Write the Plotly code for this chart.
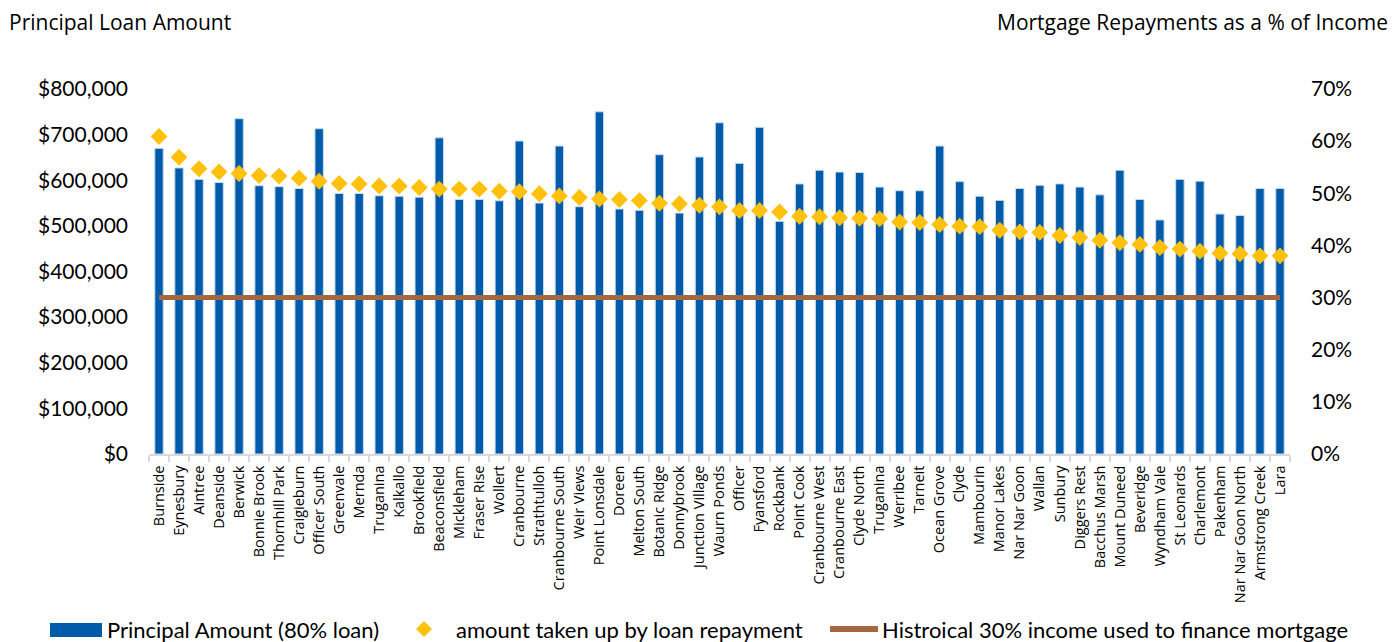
import plotly.graph_objects as go

suburbs = ["Burnside", "Eynesbury", "Aintree", "Deanside", "Berwick", "Bonnie Brook", "Thornhill Park",
           "Craigieburn", "Officer South", "Greenvale", "Mernda", "Truganina", "Kalkallo", "Brookfield",
           "Beaconsfield", "Mickleham", "Fraser Rise", "Wollert", "Cranbourne", "Strathtulloh",
           "Cranbourne South", "Weir Views", "Point Lonsdale", "Doreen", "Melton South", "Botanic Ridge",
           "Donnybrook", "Junction Village", "Waurn Ponds", "Officer", "Fyansford", "Rockbank", "Point Cook",
           "Cranbourne West", "Cranbourne East", "Clyde North", "Truganina", "Werribee", "Tarneit",
           "Ocean Grove", "Clyde", "Mambourin", "Manor Lakes", "Nar Nar Goon", "Wallan", "Sunbury",
           "Diggers Rest", "Bacchus Marsh", "Mount Duneed", "Beveridge", "Wyndham Vale", "St Leonards",
           "Charlemont", "Pakenham", "Nar Nar Goon North", "Armstrong Creek", "Lara"]

principal = [670000, 627000, 602000, 595000, 735000, 588000, 586000,
             582000, 713000, 571000, 571000, 566000, 565000, 563000,
             693000, 558000, 558000, 555000, 686000, 550000,
             675000, 542000, 750000, 537000, 534000, 656000,
             528000, 651000, 726000, 637000, 716000, 510000, 592000,
             622000, 618000, 617000, 585000, 577000, 577000,
             675000, 597000, 565000, 556000, 582000, 589000, 592000,
             585000, 568000, 622000, 558000, 513000, 602000,
             598000, 526000, 523000, 582000, 582000]

repay_pct = [60.9, 56.9, 54.7, 54.1, 53.8, 53.4, 53.3,
             52.9, 52.3, 51.9, 51.8, 51.4, 51.4, 51.1,
             50.8, 50.8, 50.8, 50.4, 50.3, 49.9,
             49.5, 49.2, 48.9, 48.8, 48.6, 48.1,
             48.0, 47.7, 47.4, 46.7, 46.7, 46.4, 45.6,
             45.5, 45.3, 45.2, 45.1, 44.5, 44.4,
             44.0, 43.7, 43.6, 42.9, 42.6, 42.5, 41.9,
             41.5, 41.0, 40.5, 40.2, 39.6, 39.3,
             38.9, 38.5, 38.4, 38.0, 38.0]

historic_pct = [30] * len(suburbs)

legend_labels = ["Principal Amount (80% loan)", "amount taken up by loan repayment",
                 "Histroical 30% income used to finance mortgage"]

BAR_C = "#005BAA"
DIA_C = "#FFC10E"
LINE_C = "#A5673F"
TICK_FONT = "Lato"
TXT_FONT = "Open Sans"

W, H = 1392, 642
L, R, T, B = 149, 102, 89, 188
PW, PH = W - L - R, H - T - B


def px_x(px):
    return (px - L) / PW


def px_y(py):
    return (H - B - py) / PH


x_pos = list(range(len(suburbs)))

fig = go.Figure()
fig.add_trace(go.Bar(
    x=x_pos, y=principal, name=legend_labels[0],
    marker=dict(color=BAR_C, line=dict(color="#c9dcf0", width=1)),
    width=0.42, yaxis="y", showlegend=False))
fig.add_trace(go.Scatter(
    x=x_pos, y=repay_pct, name=legend_labels[1], mode="markers",
    marker=dict(symbol="diamond", size=13, color=DIA_C), yaxis="y2", showlegend=False))
fig.add_trace(go.Scatter(
    x=x_pos, y=historic_pct, name=legend_labels[2], mode="lines",
    line=dict(color=LINE_C, width=5), yaxis="y2", showlegend=False))

# custom legend
ly = 629
shapes = [
    dict(type="rect", xref="paper", yref="paper", x0=px_x(50), x1=px_x(102),
         y0=px_y(623), y1=px_y(637), fillcolor=BAR_C, line=dict(width=0)),
    dict(type="path", xref="paper", yref="paper",
         path="M {a},{b} L {c},{d} L {a},{e} L {f},{d} Z".format(
             a=px_x(424), b=px_y(ly - 8), c=px_x(432), d=px_y(ly), e=px_y(ly + 8), f=px_x(416)),
         fillcolor=DIA_C, line=dict(width=0)),
    dict(type="line", xref="paper", yref="paper", x0=px_x(830), x1=px_x(878),
         y0=px_y(629), y1=px_y(629), line=dict(color=LINE_C, width=6)),
]
legend_ann = [
    dict(text=legend_labels[0], x=px_x(106), y=px_y(ly)),
    dict(text=legend_labels[1], x=px_x(455), y=px_y(ly)),
    dict(text=legend_labels[2], x=px_x(881), y=px_y(ly)),
]
annotations = []
for a in legend_ann:
    a.update(xref="paper", yref="paper", xanchor="left", yanchor="middle", showarrow=False,
             font=dict(size=22, family=TICK_FONT, color="#000"), borderpad=0)
    annotations.append(a)

annotations += [
    dict(text="Principal Loan Amount", xref="paper", yref="paper", x=px_x(7), y=px_y(22),
         xanchor="left", yanchor="middle", showarrow=False, font=dict(size=21, family=TXT_FONT)),
    dict(text="Mortgage Repayments as a % of Income", xref="paper", yref="paper", x=px_x(1390), y=px_y(22),
         xanchor="right", yanchor="middle", showarrow=False, font=dict(size=21, family=TXT_FONT)),
]

fig.update_layout(
    width=W, height=H,
    margin=dict(l=L, r=R, t=T, b=B, autoexpand=False),
    paper_bgcolor="white", plot_bgcolor="white",
    font=dict(family=TICK_FONT, size=19, color="#000000"),
    showlegend=False,
    bargap=0.5,
    xaxis=dict(range=[-0.5, len(suburbs) - 0.5], tickmode="array", tickvals=x_pos, ticktext=suburbs,
               tickangle=-90, tickfont=dict(size=14.5, family=TXT_FONT), showgrid=False, zeroline=False,
               showline=True, linecolor="#d9d9d9", linewidth=1.5, ticks="", automargin=False,
               minor=dict(tickvals=[i - 0.5 for i in range(len(suburbs) + 1)], ticks="outside",
                          ticklen=6, tickcolor="#d9d9d9", tickwidth=1.5, showgrid=False),
               ticklabelstandoff=4),
    yaxis=dict(range=[0, 800000], dtick=100000, tickprefix="$", tickformat=",.0f", automargin=False,
               showgrid=False, zeroline=False, showline=False, ticks="",
               tickfont=dict(size=21, family=TICK_FONT), ticklabelstandoff=20),
    yaxis2=dict(range=[0, 70], dtick=10, ticksuffix="%", overlaying="y", side="right", automargin=False,
                showgrid=False, zeroline=False, showline=False, ticks="",
                tickfont=dict(size=21, family=TICK_FONT), ticklabelstandoff=20),
    shapes=shapes,
    annotations=annotations,
)

fig.write_html("out.html")
